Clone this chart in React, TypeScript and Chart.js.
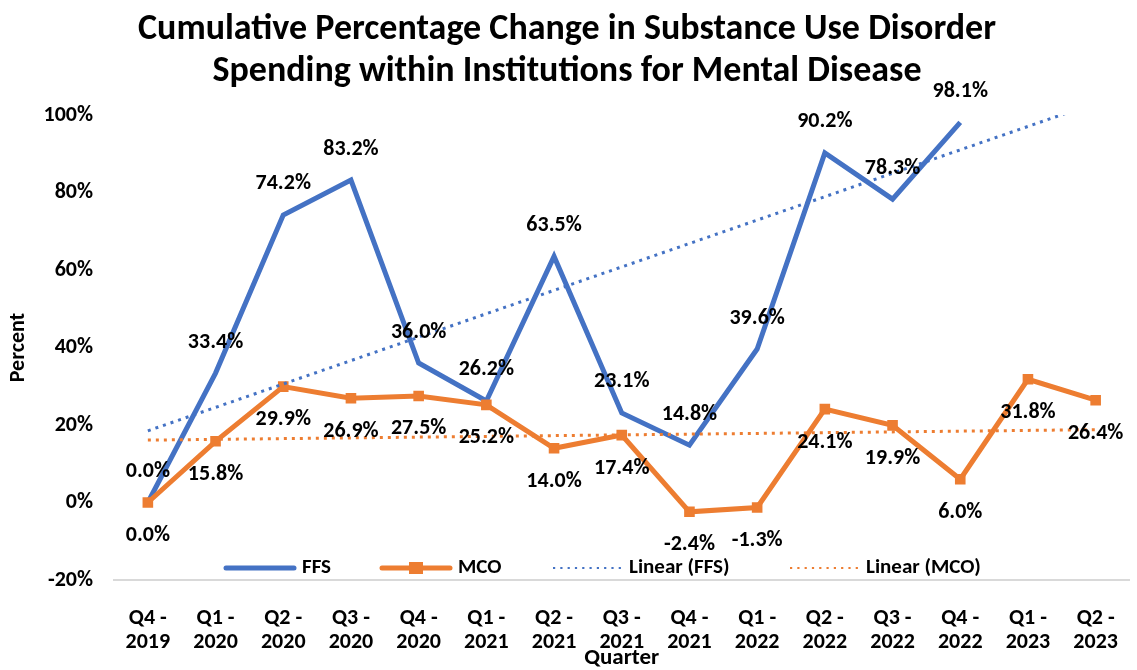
import React, { useEffect, useRef } from 'react';
import { Chart, registerables } from 'chart.js';

Chart.register(...registerables);

const W = 1137;
const H = 670;
const FONT = 'Carlito, Lato, "Noto Sans", sans-serif';

const titleLines = [
  'Cumulative Percentage Change in Substance Use Disorder',
  'Spending within Institutions for Mental Disease',
];

const quarters = [
  ['Q4 -', '2019'], ['Q1 -', '2020'], ['Q2 -', '2020'], ['Q3 -', '2020'], ['Q4 -', '2020'],
  ['Q1 -', '2021'], ['Q2 -', '2021'], ['Q3 -', '2021'], ['Q4 -', '2021'], ['Q1 -', '2022'],
  ['Q2 -', '2022'], ['Q3 -', '2022'], ['Q4 -', '2022'], ['Q1 -', '2023'], ['Q2 -', '2023'],
];

const ffsValues: (number | null)[] = [0, 33.4, 74.2, 83.2, 36.0, 26.2, 63.5, 23.1, 14.8, 39.6, 90.2, 78.3, 98.1, null, null];
const mcoValues: (number | null)[] = [0, 15.8, 29.9, 26.9, 27.5, 25.2, 14.0, 17.4, -2.4, -1.3, 24.1, 19.9, 6.0, 31.8, 26.4];

// Linear trendlines (start and end points)
const ffsTrend: (number | null)[] = [18.5, null, null, null, null, null, null, null, null, null, null, null, null, null, 103.1];
const mcoTrend: (number | null)[] = [16.1, null, null, null, null, null, null, null, null, null, null, null, null, null, 18.8];

const yMin = -20;
const yMax = 100;
const yStep = 20;

const legendLabels = ['FFS', 'MCO', 'Linear (FFS)', 'Linear (MCO)'];

const BLUE = '#4472C4';
const ORANGE = '#ED7D31';

const labelPlugin = {
  id: 'valueLabels',
  afterDatasetsDraw(chart: any) {
    const ctx = chart.ctx;
    ctx.save();
    ctx.font = `bold 22px ${FONT}`;
    ctx.fillStyle = '#000';
    ctx.textAlign = 'center';
    ctx.textBaseline = 'middle';
    [0, 1].forEach((di) => {
      const meta = chart.getDatasetMeta(di);
      const data = chart.data.datasets[di].data;
      meta.data.forEach((pt: any, i: number) => {
        const v = data[i];
        if (v === null || v === undefined) return;
        const off = di === 0 ? -31 : 33;
        ctx.fillText(`${(v as number).toFixed(1)}%`, pt.x, pt.y + off);
      });
    });
    ctx.restore();
  },
};

const legendPlugin = {
  id: 'customLegend',
  afterDraw(chart: any) {
    const ctx = chart.ctx;
    const y = chart.chartArea.bottom - 12;
    const starts = [226, 382, 553, 790];
    const sampleW = 68;
    ctx.save();
    ctx.font = `bold 21px ${FONT}`;
    ctx.textBaseline = 'middle';
    ctx.textAlign = 'left';
    starts.forEach((sx, i) => {
      const ex = sx + sampleW;
      ctx.beginPath();
      if (i < 2) {
        ctx.lineWidth = 5;
        ctx.lineCap = 'round';
        ctx.setLineDash([]);
        ctx.strokeStyle = i === 0 ? BLUE : ORANGE;
      } else {
        ctx.lineWidth = 2;
        ctx.lineCap = 'butt';
        ctx.setLineDash([2.2, 5.1]);
        ctx.strokeStyle = i === 2 ? BLUE : ORANGE;
      }
      ctx.moveTo(sx, y);
      ctx.lineTo(ex, y);
      ctx.stroke();
      ctx.setLineDash([]);
      if (i === 1) {
        ctx.fillStyle = ORANGE;
        ctx.fillRect((sx + ex) / 2 - 7, y - 6, 14, 12);
      }
      ctx.fillStyle = '#000';
      ctx.fillText(legendLabels[i], ex + 8, y);
    });
    ctx.restore();
  },
};

export default function App() {
  const ref = useRef<HTMLCanvasElement | null>(null);

  useEffect(() => {
    document.body.style.margin = '0';
    const canvas = ref.current;
    if (!canvas) return;
    const chart = new Chart(canvas, {
      type: 'line',
      data: {
        labels: quarters,
        datasets: [
          {
            label: 'FFS',
            data: ffsValues,
            borderColor: BLUE,
            backgroundColor: BLUE,
            borderWidth: 5,
            pointRadius: 0,
            tension: 0,
            order: 2,
            spanGaps: false,
          },
          {
            label: 'MCO',
            data: mcoValues,
            borderColor: ORANGE,
            backgroundColor: ORANGE,
            borderWidth: 5,
            pointStyle: 'rect',
            pointRadius: 7.5,
            pointBorderWidth: 0,
            tension: 0,
            order: 1,
          },
          {
            label: 'Linear (FFS)',
            data: ffsTrend,
            borderColor: BLUE,
            borderWidth: 3,
            borderDash: [3, 5],
            pointRadius: 0,
            spanGaps: true,
            clip: 0,
            order: 0,
          },
          {
            label: 'Linear (MCO)',
            data: mcoTrend,
            borderColor: ORANGE,
            borderWidth: 3,
            borderDash: [3, 5],
            pointRadius: 0,
            spanGaps: true,
            clip: 0,
            order: 0,
          },
        ],
      },
      options: {
        responsive: false,
        animation: false,
        layout: { padding: { left: 0, right: 3, top: 0, bottom: 0 } },
        plugins: {
          legend: { display: false },
          tooltip: { enabled: false },
          title: {
            display: true,
            text: titleLines,
            color: '#000',
            font: { family: FONT, size: 36, weight: 'bold', lineHeight: 1.167 },
            padding: { top: 9, bottom: 22 },
          },
        },
        scales: {
          x: {
            offset: true,
            grid: { display: false },
            border: { display: true, color: '#d9d9d9', width: 2 },
            ticks: {
              color: '#000',
              font: { family: FONT, size: 22, weight: 'bold', lineHeight: 1.12 },
              padding: 18,
              maxRotation: 0,
              autoSkip: false,
            },
            title: {
              display: true,
              text: 'Quarter',
              color: '#000',
              font: { family: FONT, size: 23, weight: 'bold', lineHeight: 1.0 },
              padding: { top: 0, bottom: 0 },
            },
            afterFit: (s: any) => { s.height = 90; },
          },
          y: {
            min: yMin,
            max: yMax,
            grid: { display: false },
            border: { display: false },
            ticks: {
              stepSize: yStep,
              color: '#000',
              font: { family: FONT, size: 22, weight: 'bold' },
              padding: 13,
              callback: (v: any) => `${v}%`,
            },
            title: {
              display: true,
              text: 'Percent',
              color: '#000',
              font: { family: FONT, size: 22, weight: 'bold', lineHeight: 1.2 },
              padding: { top: 5, bottom: 0 },
            },
            afterFit: (s: any) => { s.width = 114; },
          },
        },
      },
      plugins: [labelPlugin, legendPlugin],
    } as any);
    return () => chart.destroy();
  }, []);

  return (
    <div style={{ width: W, height: H }}>
      <canvas ref={ref} width={W} height={H} />
    </div>
  );
}
